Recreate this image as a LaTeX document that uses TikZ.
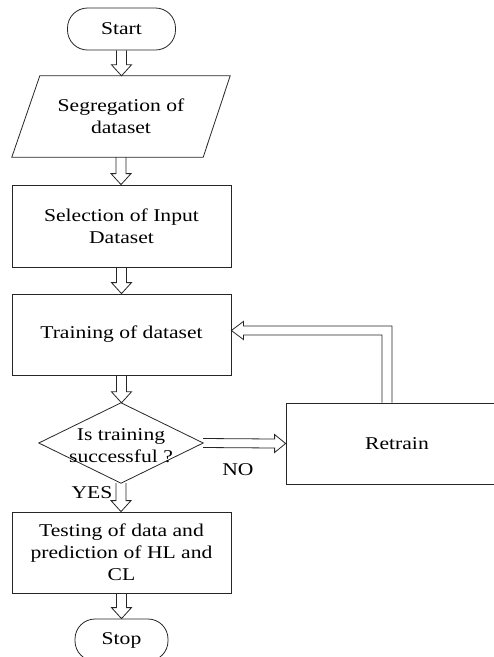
\documentclass[tikz,border=0pt]{standalone}
\usepackage{fontspec}
\setmainfont[FakeStretch=1.2]{Liberation Serif}
\usetikzlibrary{calc}
\tikzset{
  lbl/.style={inner sep=0pt, font=\fontsize{18}{22}\selectfont, align=center},
  boxnode/.style={lbl, draw=black!85, line width=0.8pt, minimum width=219, minimum height=81},
  ghost/.style={lbl},
  term/.style={lbl, draw=black!85, line width=0.8pt, rounded corners=20pt},
  fat/.style={draw=black!85, line width=0.8pt, line join=miter},
  outline/.style={draw=black!85, line width=0.8pt},
}
\newcommand\fatdown[2]{%
  \coordinate (tipA) at (#1 |- #2);
  \draw[fat] ($(#1)+(-5,0)$) -- ($(tipA)+(-5,-11)$) -- ($(tipA)+(-10,-11)$) -- (tipA)
    -- ($(tipA)+(10,-11)$) -- ($(tipA)+(5,-11)$) -- ($(#1)+(5,0)$);}
\begin{document}
\begin{tikzpicture}[x=1pt,y=-1pt]
\useasboundingbox (0,0) rectangle (494,657);
% nodes
\node[term, minimum width=108, minimum height=42] (start) at (121.5,29) {Start};
\node[ghost, minimum width=218, minimum height=81] (seg) at (121,116.5) {Segregation of\\dataset};
\draw[outline] (seg.south west) -- ($(seg.north west)+(28,0)$) -- (seg.north east) -- ($(seg.south east)+(-27,0)$) -- cycle;
\node[boxnode, minimum height=82] (sel) at (121.5,226) {Selection of Input\\Dataset};
\node[boxnode] (train) at (121.5,334.5) {Training of dataset};
\node[ghost, minimum width=164, minimum height=80] (dec) at (121,443) {};
\draw[outline] (dec.north) -- (dec.east) -- (dec.south) -- (dec.west) -- cycle;
\node[lbl] (dectxt) at (121,446) {Is training\\successful ?};
\node[boxnode, minimum width=222] (retrain) at (397,443.5) {Retrain};
\node[boxnode, minimum height=81] (test) at (121.5,552.5) {Testing of data and\\prediction of HL and\\CL};
\node[term, minimum width=93, minimum height=42] (stop) at (121.5,640) {Stop};
\node[lbl] (yes) at (92,493) {YES};
\node[lbl] (no) at (238,470) {NO};
% vertical fat arrows
\fatdown{start.south}{seg.north}
\fatdown{seg.south}{sel.north}
\fatdown{sel.south}{train.north}
\fatdown{train.south}{dec.north}
\fatdown{dec.south}{test.north}
\fatdown{test.south}{stop.north}
% NO arrow
\draw[fat] ($(dec.east)+(0,-4.5)$) -- ($(retrain.west)+(-11,-4.5)$) -- ($(retrain.west)+(-11,-9)$) -- (retrain.west)
  -- ($(retrain.west)+(-11,9)$) -- ($(retrain.west)+(-11,4.5)$) -- ($(dec.east)+(0,4.5)$);
% feedback arrow
\coordinate (fbT) at ($(train.east)+(0,-4)$);
\coordinate (fbB) at ($(retrain.north)+(-10,0)$);
\coordinate (fbC) at (fbB |- fbT);
\draw[fat] ($(fbB)+(5,0)$) -- ($(fbC)+(5,-4.5)$) -- ($(fbT)+(12,-4.5)$) -- ($(fbT)+(12,-9)$) -- (fbT)
  -- ($(fbT)+(12,9)$) -- ($(fbT)+(12,4.5)$) -- ($(fbC)+(-5,4.5)$) -- ($(fbB)+(-5,0)$);
\end{tikzpicture}
\end{document}
